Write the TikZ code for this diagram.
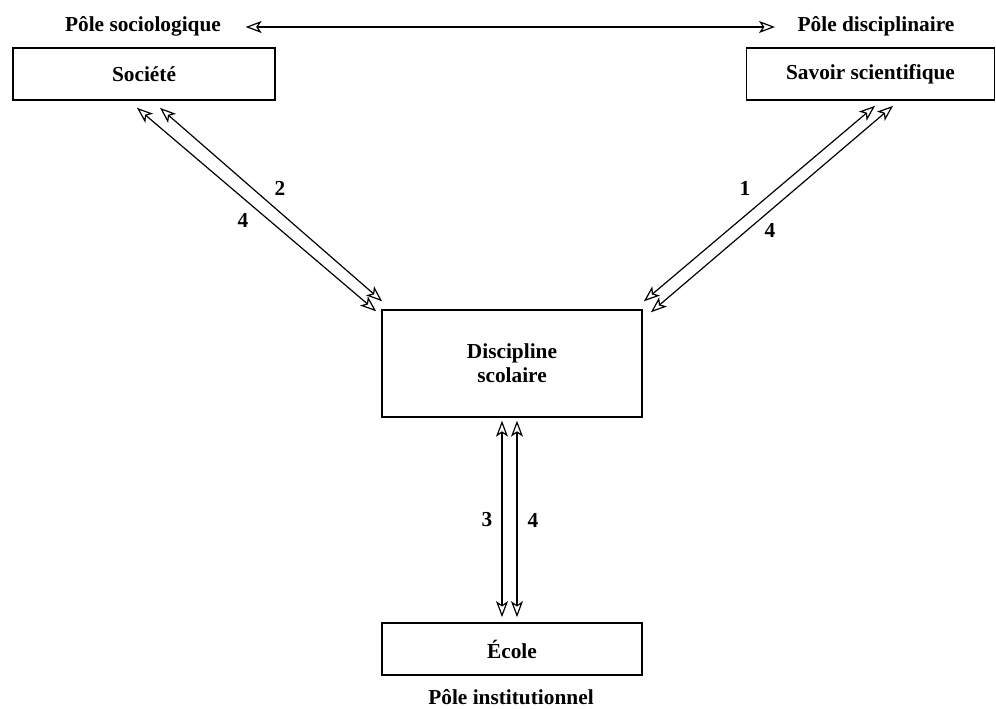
\documentclass[tikz,border=0pt]{standalone}
\usepackage{fontspec}
\setmainfont{Liberation Serif}
\usepackage{tikz}
\usetikzlibrary{arrows.meta,calc}

\begin{document}
\begin{tikzpicture}[x=0.75pt,y=-0.75pt,
    font=\fontsize{16}{18}\selectfont\bfseries,
    box/.style={draw,line width=1.3pt,inner sep=0pt,align=center},
    arr/.style={line width=0.9pt,{Stealth[open,length=12pt,width=9pt,inset=3pt]}-{Stealth[open,length=12pt,width=9pt,inset=3pt]}}]
  \useasboundingbox (0,0) rectangle (996,709);

  % poles
  \node (psoc) at (143,26) {Pôle sociologique};
  \node (pdis) at (876,26) {Pôle disciplinaire};
  \node (pins) at (511,697) {Pôle institutionnel};

  % boxes
  \node[box,minimum width=197pt,minimum height=39pt] (soc) at (144,74) {Société};
  \node[box,minimum width=186pt,minimum height=39pt] (sav) at (870.5,74) {Savoir scientifique};
  \node[box,minimum width=195pt,minimum height=80pt] (disc) at (512,363.5) {Discipline\\scolaire};
  \node[box,minimum width=195pt,minimum height=39pt] (ecole) at (512,649) {École};

  % top link
  \draw[arr] ($(psoc.east)+(20,1)$) -- ($(pdis.west)+(-18,1)$);

  % Société -- Discipline
  \draw[arr] ($(soc.south)+(-7,7)$) -- ($(disc.north west)+(-5,2)$);
  \draw[arr] ($(soc.south)+(16,7)$) -- ($(disc.north west)+(1,-8)$);
  \node (n2) at (280,188) {2};
  \node (n4a) at (243,220) {4};

  % Savoir -- Discipline
  \draw[arr] ($(sav.south)+(4.5,5)$) -- ($(disc.north east)+(1,-8)$);
  \draw[arr] ($(sav.south)+(22.5,5)$) -- ($(disc.north east)+(8,3)$);
  \node (n1) at (745,188) {1};
  \node (n4b) at (770,230) {4};

  % Discipline -- École
  \draw[arr] ($(disc.south)+(-10,3)$) -- ($(ecole.north)+(-10,-5)$);
  \draw[arr] ($(disc.south)+(5,3)$) -- ($(ecole.north)+(5,-5)$);
  \node (n3) at (487,520) {3};
  \node (n4c) at (533,520) {4};
\end{tikzpicture}
\end{document}
